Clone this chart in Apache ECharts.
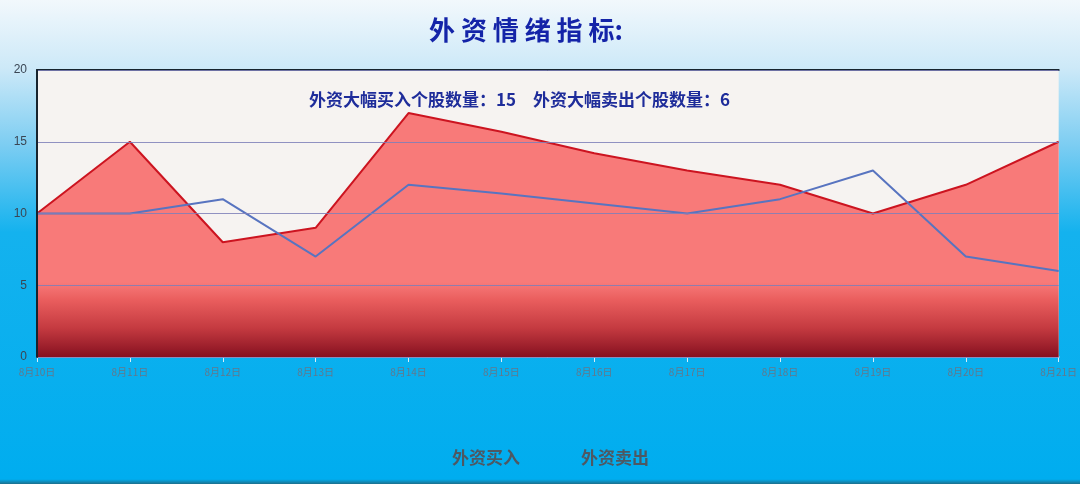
<!DOCTYPE html>
<html><head><meta charset="utf-8">
<script src="https://cdn.jsdelivr.net/npm/echarts@6/dist/echarts.min.js"></script>
<style>html,body{margin:0;padding:0;}#c{width:1080px;height:484px;}</style>
</head><body><div id="c"></div>
<script>
var categories = ['8月10日','8月11日','8月12日','8月13日','8月14日','8月15日','8月16日','8月17日','8月18日','8月19日','8月20日','8月21日'];
var buyValues = [10, 15, 8, 9, 17, 15.7, 14.2, 13, 12, 10, 12, 15];
var sellValues = [10, 10, 11, 7, 12, 11.4, 10.7, 10, 11, 13, 7, 6];
var yTicks = [0, 5, 10, 15, 20];
var buyCount = 15, sellCount = 6;

var chart = echarts.init(document.getElementById('c'));
chart.setOption({
  backgroundColor: new echarts.graphic.LinearGradient(0, 0, 0, 1, [
    {offset: 0, color: '#f2f8fc'},
    {offset: 0.14, color: '#cde9f8'},
    {offset: 0.3, color: '#7ccdf2'},
    {offset: 0.48, color: '#14b2ee'},
    {offset: 0.99, color: '#00adef'},
    {offset: 1, color: '#1d6f8c'}
  ]),
  title: [
    {text: '外 资 情 绪 指 标:', left: 424, top: 12,
     textStyle: {color: '#1424a8', fontSize: 26, fontWeight: 'bold', fontFamily: 'Noto Sans CJK SC'}},
    {text: '外资大幅买入个股数量：' + buyCount + '　外资大幅卖出个股数量：' + sellCount, left: 304, top: 86,
     textStyle: {color: '#1e2c9a', fontSize: 17, fontWeight: 'bold', fontFamily: 'Noto Sans CJK SC'}}
  ],
  legend: {
    data: ['外资买入', '外资卖出'], bottom: 13, left: 441,
    itemWidth: 0, itemHeight: 0, itemGap: 55,
    textStyle: {color: '#4e5862', fontSize: 17, fontWeight: 'bold', fontFamily: 'Noto Sans CJK SC'}
  },
  grid: {left: 37, right: 18, top: 70, bottom: 127, show: true, backgroundColor: '#f6f3f1', borderWidth: 0},
  xAxis: [{
    type: 'category', data: categories, boundaryGap: false,
    axisLine: {lineStyle: {color: '#b8dcf0', width: 2}},
    axisTick: {show: true, lineStyle: {color: '#d8eef8'}},
    axisLabel: {color: '#62788c', fontSize: 10, margin: 10, fontFamily: 'Noto Sans CJK SC'},
    splitLine: {show: false}
  }, {
    type: 'category', position: 'top', data: categories, boundaryGap: false,
    axisLine: {lineStyle: {color: '#17242e', width: 2}},
    axisTick: {show: false}, axisLabel: {show: false}
  }],
  yAxis: {
    type: 'value', min: 0, max: 20, interval: 5, z: 5,
    axisLine: {show: true, lineStyle: {color: '#17242e', width: 2}},
    axisTick: {show: false},
    axisLabel: {color: '#3a4654', fontSize: 12, margin: 10},
    splitLine: {lineStyle: {color: '#7e7fb8', width: 1, opacity: 0.85}}
  },
  series: [{
    name: '外资买入', type: 'line', data: buyValues, symbol: 'none', z: 2,
    lineStyle: {color: '#cc1420', width: 2},
    itemStyle: {color: '#cc1420'},
    areaStyle: {opacity: 1, color: new echarts.graphic.LinearGradient(0, 70, 0, 357, [
      {offset: 0, color: '#f87a79'},
      {offset: 0.74, color: '#f87a79'},
      {offset: 0.8, color: '#ea5e5e'},
      {offset: 0.9, color: '#c43a40'},
      {offset: 1, color: '#861020'}
    ], true)}
  }, {
    name: '外资卖出', type: 'line', data: sellValues, symbol: 'none', z: 3,
    lineStyle: {color: '#5874c0', width: 2},
    itemStyle: {color: '#5874c0'}
  }]
});
</script></body></html>
